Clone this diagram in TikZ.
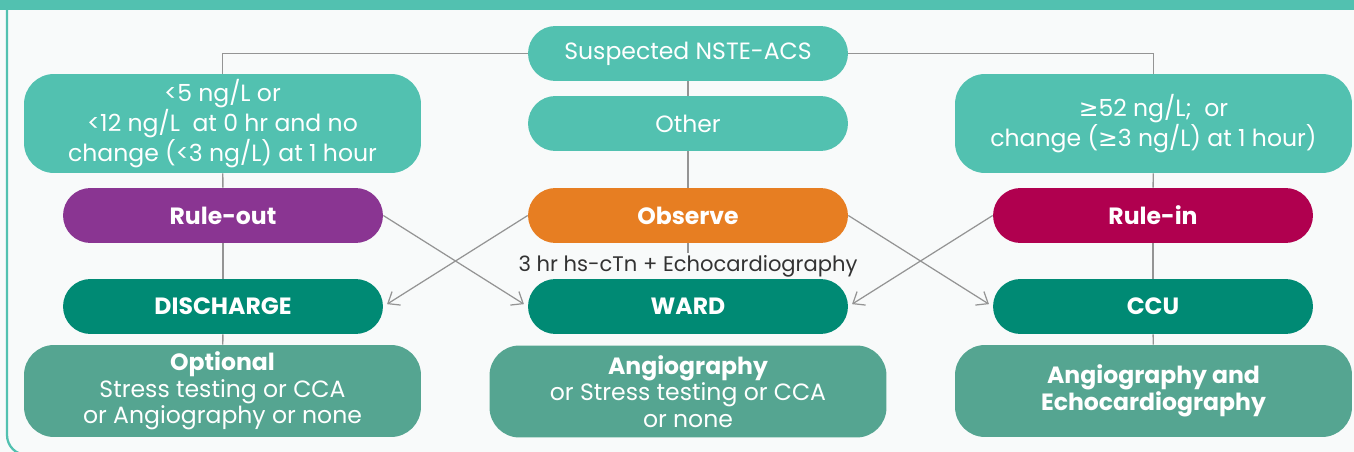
\documentclass[tikz,border=0pt]{standalone}
\usepackage{fontspec}
\setmainfont{Poppins}
\newfontfamily\symfont{DejaVu Sans}
\usepackage{tikz}
\usetikzlibrary{arrows.meta, positioning}

\definecolor{lteal}{HTML}{52C1B0}
\definecolor{dteal}{HTML}{008A74}
\definecolor{mteal}{HTML}{55A591}
\definecolor{rpurple}{HTML}{8A3592}
\definecolor{rorange}{HTML}{E77E22}
\definecolor{rmagenta}{HTML}{B0004F}
\definecolor{bgwhite}{HTML}{F8FAFA}

\newcommand{\atleast}{{\symfont ≥}}

\begin{document}
\begin{tikzpicture}[
    x=0.02cm, y=-0.02cm,
    every node/.style={font=\fontsize{13.4}{15.2}\selectfont},
    pill/.style={rectangle, rounded corners=0.55cm, fill=#1, text=white,
                 minimum height=1.1cm, minimum width=6.4cm, align=center, inner sep=0pt},
    bigbox/.style={rectangle, rounded corners=0.6cm, fill=#1, text=white,
                   minimum height=1.98cm, minimum width=7.94cm, align=center, inner sep=0pt},
    lowbox/.style={bigbox=mteal, minimum height=1.84cm},
    line/.style={draw=gray!80!black!70, line width=0.8pt},
    arrow/.style={-{Straight Barb[length=2mm, width=3.2mm]}, draw=gray!80!black!70,
                  line width=0.7pt, shorten >=2.5pt}
  ]

  % Frame
  \useasboundingbox (0,0) rectangle (1354,452);
  \fill[bgwhite] (0,0) rectangle (1354,452);
  \fill[lteal] (0,0) rectangle (1354,10);
  \draw[lteal, line width=1.3pt, rounded corners=0.4cm] (7,9) -- (7,455) -- (80,455);

  % Top row
  \node[pill=lteal] (start) at (688,53.5) {Suspected NSTE-ACS};
  \node[bigbox=lteal] (low) at (222.5,123.5)
    {<5 ng/L or\\<12 ng/L\ \ at 0 hr and no\\change (<3 ng/L) at 1 hour};
  \node[pill=lteal] (other) at (688,123.5) {Other};
  \node[bigbox=lteal] (high) at (1153.5,123.5)
    {\atleast52 ng/L;\ \ or\\change (\atleast3 ng/L) at 1 hour)};

  % Decision row
  \node[pill=rpurple] (ruleout) at (223,215.5) {\textbf{Rule-out}};
  \node[pill=rorange] (observe) at (688,215.5) {\textbf{Observe}};
  \node[pill=rmagenta] (rulein) at (1153,215.5) {\textbf{Rule-in}};
  \node[text=black!80, inner sep=1pt, font=\fontsize{12}{14}\selectfont] (serial)
    at (688,266) {3 hr hs-cTn + Echocardiography};

  % Destination row
  \node[pill=dteal] (discharge) at (223,306.5) {\textbf{DISCHARGE}};
  \node[pill=dteal] (ward) at (688,306.5) {\textbf{WARD}};
  \node[pill=dteal] (ccu) at (1153,306.5) {\textbf{CCU}};

  % Bottom row
  \node[lowbox] (optional) at (222.5,391)
    {\textbf{Optional}\\Stress testing or CCA\\or Angiography or none};
  \node[lowbox] (angio) at (688,391.5)
    {\textbf{Angiography}\\or Stress testing or CCA\\or none};
  \node[lowbox] (echo) at (1153.5,391)
    {\textbf{Angiography and}\\\textbf{Echocardiography}};

  % Connections
  \draw[line] (start.west) -| (low.north);
  \draw[line] (start.east) -| (high.north);
  \draw[line] (start) -- (other);
  \draw[line] (other) -- (observe);
  \draw[line] (observe) -- (serial);
  \draw[line] (low) -- (ruleout);
  \draw[line] (ruleout) -- (discharge);
  \draw[line] (discharge) -- (optional);
  \draw[line] (high) -- (rulein);
  \draw[line] (rulein) -- (ccu);
  \draw[line] (ccu) -- (echo);

  \draw[arrow] (ruleout.east) -- (ward.west);
  \draw[arrow] (observe.west) -- (discharge.east);
  \draw[arrow] (observe.east) -- (ccu.west);
  \draw[arrow] (rulein.west) -- (ward.east);

\end{tikzpicture}
\end{document}
